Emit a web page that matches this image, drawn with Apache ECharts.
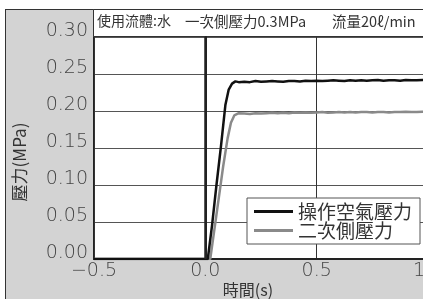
<!DOCTYPE html>
<html>
<head>
<meta charset="utf-8">
<script src="https://cdn.jsdelivr.net/npm/echarts@6/dist/echarts.min.js"></script>
<style>
  html, body { margin: 0; padding: 0; background: #fff; }
  #main { width: 423px; height: 299px; }
</style>
</head>
<body>
<div id="main"></div>
<script>
// 時間(s) と 壓力(MPa)
const blackT = [-0.5, 0, 0.011, 0.03, 0.05, 0.07, 0.09, 0.105, 0.12, 0.135,
  0.15, 0.175, 0.2, 0.225, 0.25, 0.275, 0.3, 0.325, 0.35, 0.375, 0.4, 0.425, 0.45, 0.475,
  0.5, 0.525, 0.55, 0.575, 0.6, 0.625, 0.65, 0.675, 0.7, 0.725, 0.75, 0.775, 0.8, 0.825,
  0.85, 0.875, 0.9, 0.925, 0.95, 0.975, 1.0];
const blackV = [0, 0, 0, 0.045, 0.10, 0.152, 0.208, 0.229, 0.237, 0.240,
  0.239, 0.2395, 0.239, 0.2405, 0.2395, 0.240, 0.2405, 0.240, 0.2395, 0.2405, 0.2405, 0.240,
  0.241, 0.2405, 0.241, 0.2405, 0.241, 0.2415, 0.241, 0.2405, 0.2415, 0.241, 0.2415, 0.241,
  0.2415, 0.242, 0.241, 0.2415, 0.2415, 0.241, 0.242, 0.2415, 0.2415, 0.242, 0.2415];
const grayT = [-0.5, 0, 0.022, 0.05, 0.08, 0.10, 0.115, 0.13, 0.15,
  0.175, 0.2, 0.225, 0.25, 0.275, 0.3, 0.325, 0.35, 0.375, 0.4, 0.425, 0.45, 0.475,
  0.5, 0.525, 0.55, 0.575, 0.6, 0.625, 0.65, 0.675, 0.7, 0.725, 0.75, 0.775, 0.8, 0.825,
  0.85, 0.875, 0.9, 0.925, 0.95, 0.975, 1.0];
const grayV = [0, 0, 0, 0.06, 0.125, 0.163, 0.184, 0.194, 0.197,
  0.1965, 0.196, 0.197, 0.1965, 0.197, 0.1975, 0.197, 0.1975, 0.197, 0.198, 0.1975, 0.198,
  0.1975, 0.198, 0.1985, 0.1975, 0.198, 0.1985, 0.198, 0.1985, 0.198, 0.1985, 0.1985, 0.198,
  0.1985, 0.1985, 0.198, 0.1985, 0.1985, 0.199, 0.1985, 0.1985, 0.199, 0.1985];
const xTicks = ['\u22120.5', '0.0', '0.5', '1.0'];
const seriesNames = ['操作空氣壓力', '二次側壓力'];
const titleParts = ['使用流體:水', '一次側壓力0.3MPa', '流量20ℓ/min'];

const cjk = '"Noto Sans CJK TC", "Noto Sans CJK JP", sans-serif';
const num = '"DejaVu Sans", sans-serif';

const chart = echarts.init(document.getElementById('main'));
chart.setOption({
  backgroundColor: '#d3d3d3',
  animation: false,
  grid: {
    left: 94, top: 37, right: -5, bottom: 40,
    outerBoundsMode: 'none',
    show: true, backgroundColor: '#fff', borderColor: '#222', borderWidth: 2
  },
  legend: {
    orient: 'vertical', left: 247, top: 198,
    padding: [4, 8, 4, 7], itemGap: 0,
    itemWidth: 39, itemHeight: 18,
    backgroundColor: '#fff', borderColor: '#555', borderWidth: 1,
    textStyle: { fontFamily: cjk, fontSize: 19, color: '#333', lineHeight: 18 },
    data: seriesNames.map(n => ({ name: n, icon: 'path://M0,0 L39,0 L39,3 L0,3 Z' }))
  },
  xAxis: {
    type: 'value', min: -0.5, max: 1.0, interval: 0.5,
    name: '時間(s)', nameLocation: 'middle', nameGap: 23, nameMoveOverlap: false,
    nameTextStyle: { fontFamily: cjk, fontSize: 16, color: '#333', padding: [0, 26, 0, 0] },
    axisLine: { show: true, lineStyle: { color: '#222', width: 2 } },
    axisTick: { show: false },
    axisLabel: {
      margin: 3, fontFamily: num, fontWeight: 200, fontSize: 19, color: '#444',
      formatter: v => xTicks[Math.round((v + 0.5) / 0.5)]
    },
    splitLine: { show: true, lineStyle: { color: '#333', width: 1 } }
  },
  yAxis: {
    type: 'value', min: 0, max: 0.3, interval: 0.05,
    axisLine: { show: true, lineStyle: { color: '#222', width: 2 } },
    axisTick: { show: false },
    axisLabel: {
      margin: 6, fontFamily: num, fontWeight: 200, fontSize: 19, color: '#444',
      verticalAlign: 'bottom', lineHeight: 11,
      formatter: v => v.toFixed(2)
    },
    splitLine: { show: true, lineStyle: { color: '#555', width: 1 } }
  },
  series: [
    {
      name: seriesNames[0], type: 'line', showSymbol: false,
      color: '#111', lineStyle: { width: 2.5, color: '#111' },
      data: blackT.map((t, i) => [t, blackV[i]]),
      markLine: {
        silent: true, symbol: 'none', label: { show: false },
        lineStyle: { color: '#222', width: 2.5, type: 'solid' },
        data: [{ xAxis: 0 }]
      },
      z: 3
    },
    {
      name: seriesNames[1], type: 'line', showSymbol: false,
      color: '#8a8a8a', lineStyle: { width: 2.5, color: '#8a8a8a' },
      data: grayT.map((t, i) => [t, grayV[i]]),
      z: 2
    }
  ],
  graphic: [
    { type: 'rect', shape: { x: 0, y: 0, width: 423, height: 9 }, style: { fill: '#fff' } },
    { type: 'rect', shape: { x: 0, y: 0, width: 5, height: 299 }, style: { fill: '#fff' } },
    { type: 'line', shape: { x1: 5.5, y1: 9, x2: 5.5, y2: 299 }, style: { stroke: '#333', lineWidth: 1 } },
    { type: 'line', shape: { x1: 5, y1: 9.5, x2: 423, y2: 9.5 }, style: { stroke: '#333', lineWidth: 1 } },
    { type: 'rect', shape: { x: 93.5, y: 9.5, width: 340, height: 27 }, style: { fill: '#fff', stroke: '#333', lineWidth: 1 } },
    { type: 'text', x: 97, y: 21, style: { text: titleParts[0], font: '14px ' + cjk, fill: '#333', verticalAlign: 'middle' } },
    { type: 'text', x: 185, y: 21, style: { text: titleParts[1], font: '14.5px ' + cjk, fill: '#333', verticalAlign: 'middle' } },
    { type: 'text', x: 332, y: 21, style: { text: titleParts[2], font: '14.5px ' + cjk, fill: '#333', verticalAlign: 'middle' } },
    {
      type: 'text', x: 20, y: 162, rotation: Math.PI / 2,
      style: { text: '壓力(MPa)', font: '17px ' + cjk, fill: '#333', align: 'center', verticalAlign: 'middle' }
    }
  ]
});
</script>
</body>
</html>
